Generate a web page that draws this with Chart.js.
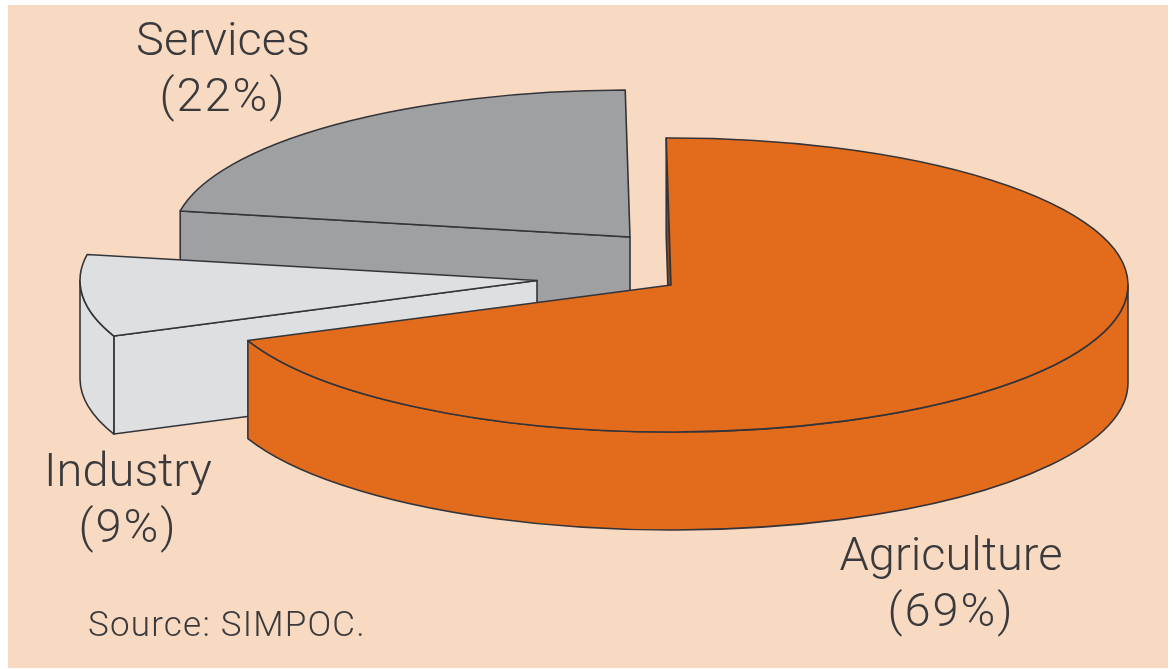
<!DOCTYPE html>
<html>
<head>
<meta charset="utf-8">
<title>Employment by sector</title>
<script src="https://cdn.jsdelivr.net/npm/chart.js@4/dist/chart.umd.min.js"></script>
<style>
  html, body { margin: 0; padding: 0; background: #fff; }
  canvas { display: block; }
</style>
</head>
<body>
<canvas id="myChart" width="1173" height="669"></canvas>
<script>
// sector shares, in drawing order round the pie
const categories = ['Agriculture', 'Industry', 'Services'];
const shares = [69, 9, 22];
const sourceNote = 'Source: SIMPOC.';

// look of each slice
const topColors = ['#E36C1C', '#DEDFE1', '#9FA0A2'];
const rimColors = ['#E36C1C', '#DEDFE1', '#9FA0A2'];
const cutColors = ['#8A4A1E', '#DEDFE1', '#9FA0A2'];
const outline = '#33343a';

// how far each slice is pulled away from the middle of the canvas
const pullOut = [{x: 84.5, y: -49.5}, {x: -49.5, y: -54}, {x: 43.5, y: -97.5}];
// back slices get painted first so the front ones sit over them
const paintOrder = [2, 1, 0];

// the tilted disc
const RX = 457, RY = 147, DEPTH = 98;

const labelSpots = [{x: 951, y: 570}, {x: 128, y: 486}, {x: 223, y: 55}];
const LABEL_FONT = '300 47px Roboto, "Liberation Sans", sans-serif';

function outerWall(ctx, ax, ay, from, to) {
  ctx.beginPath();
  ctx.ellipse(ax, ay, RX, RY, 0, from, to);
  ctx.lineTo(ax + RX * Math.cos(to), ay + RY * Math.sin(to) + DEPTH);
  ctx.ellipse(ax, ay + DEPTH, RX, RY, 0, to, from, true);
  ctx.closePath();
}

function cutWall(ctx, ax, ay, angle) {
  const ex = ax + RX * Math.cos(angle), ey = ay + RY * Math.sin(angle);
  ctx.beginPath();
  ctx.moveTo(ax, ay);
  ctx.lineTo(ex, ey);
  ctx.lineTo(ex, ey + DEPTH);
  ctx.lineTo(ax, ay + DEPTH);
  ctx.closePath();
}

// arcs below the horizon are the only part of the rim you can see
function frontParts(start, end) {
  const parts = [];
  for (let k = -1; k <= 1; k++) {
    const a = Math.max(start, k * 2 * Math.PI);
    const b = Math.min(end, k * 2 * Math.PI + Math.PI);
    if (b > a) parts.push([a, b]);
  }
  return parts;
}

const pie3d = {
  id: 'pie3d',
  beforeDraw(chart) {
    const ctx = chart.ctx;
    ctx.save();
    ctx.fillStyle = '#F8DAC2';
    ctx.fillRect(8, 5, 1160, 663);
    ctx.restore();
  },
  // takes over the dataset drawing: extrudes each arc, then lets the arc draw its own top
  beforeDatasetsDraw(chart) {
    const ctx = chart.ctx;
    const arcs = chart.getDatasetMeta(0).data;

    paintOrder.forEach(i => {
      const arc = arcs[i];
      const ax = arc.x + pullOut[i].x;
      const ay = arc.y + pullOut[i].y;
      const start = arc.startAngle, end = arc.endAngle;

      ctx.save();
      ctx.lineWidth = 1.6;
      ctx.strokeStyle = outline;
      ctx.lineJoin = 'round';

      // the wall at the end angle always faces away here, only the start one shows
      cutWall(ctx, ax, ay, start);
      ctx.fillStyle = cutColors[i];
      ctx.fill();
      ctx.stroke();

      frontParts(start, end).forEach(part => {
        outerWall(ctx, ax, ay, part[0], part[1]);
        ctx.fillStyle = rimColors[i];
        ctx.fill();
        ctx.stroke();
      });
      ctx.restore();

      // top face, squashed from the arc the library laid out
      ctx.save();
      ctx.translate(ax, ay);
      ctx.scale(RX / arc.outerRadius, RY / arc.outerRadius);
      ctx.translate(-arc.x, -arc.y);
      arc.draw(ctx);
      ctx.restore();

      ctx.save();
      ctx.lineWidth = 1.6;
      ctx.strokeStyle = outline;
      ctx.lineJoin = 'round';
      ctx.beginPath();
      ctx.moveTo(ax, ay);
      ctx.ellipse(ax, ay, RX, RY, 0, start, end);
      ctx.closePath();
      ctx.stroke();
      ctx.restore();
    });
    return false;
  },
  afterDraw(chart) {
    const ctx = chart.ctx;
    ctx.save();
    ctx.fillStyle = '#3a3a3c';
    ctx.textBaseline = 'alphabetic';
    ctx.textAlign = 'center';
    ctx.font = LABEL_FONT;
    categories.forEach((name, i) => {
      ctx.letterSpacing = '0px';
      ctx.fillText(name, labelSpots[i].x, labelSpots[i].y);
      ctx.letterSpacing = '2px';
      ctx.fillText('(' + shares[i] + '%)', labelSpots[i].x, labelSpots[i].y + 56);
    });
    ctx.textAlign = 'left';
    ctx.font = '300 35px Roboto, "Liberation Sans", sans-serif';
    ctx.letterSpacing = '1.2px';
    ctx.fillText(sourceNote, 88, 636);
    ctx.restore();
  }
};

new Chart(document.getElementById('myChart'), {
  type: 'pie',
  data: {
    labels: categories,
    datasets: [{
      data: shares,
      backgroundColor: topColors,
      borderWidth: 0
    }]
  },
  options: {
    responsive: false,
    animation: false,
    rotation: -0.6,
    layout: { padding: 0 },
    plugins: {
      legend: { display: false },
      tooltip: { enabled: false }
    }
  },
  plugins: [pie3d]
});
</script>
</body>
</html>
